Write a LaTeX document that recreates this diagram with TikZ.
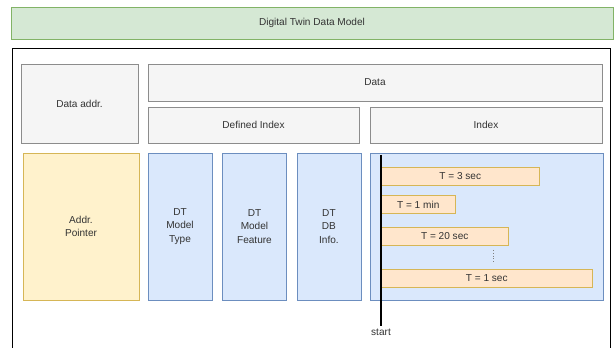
\documentclass[tikz,border=0pt]{standalone}
\usepackage{fontspec}
\setmainfont{Liberation Sans}
\usetikzlibrary{positioning}
\definecolor{titlefill}{HTML}{D5E8D4}
\definecolor{titleline}{HTML}{82B366}
\definecolor{cellfill}{HTML}{F5F5F5}
\definecolor{cellline}{HTML}{8C8C8C}
\definecolor{addrfill}{HTML}{FFF2CC}
\definecolor{addrline}{HTML}{D6B656}
\definecolor{fieldfill}{HTML}{DAE8FC}
\definecolor{fieldline}{HTML}{6C8EBF}
\definecolor{slotfill}{HTML}{FFE6CC}
\definecolor{textgray}{HTML}{333333}
\tikzset{
  x=0.03cm, y=-0.03cm,
  every node/.style={font=\fontsize{8.6}{11.5}\selectfont, text=textgray, align=center, inner sep=0pt},
  title/.style={draw=titleline, fill=titlefill, minimum width=18.06cm, minimum height=0.96cm},
  cell/.style={draw=cellline, fill=cellfill, line width=0.8pt},
  addr/.style={draw=addrline, fill=addrfill, minimum width=3.48cm, minimum height=4.41cm},
  field/.style={draw=fieldline, fill=fieldfill, minimum width=1.92cm, minimum height=4.41cm},
  slot/.style={draw=addrline, fill=slotfill, anchor=west, minimum height=0.55cm},
}

\begin{document}
\begin{tikzpicture}
      \useasboundingbox (0,0) rectangle (614,348);
      \node[title] (model) at (312,23) {Digital Twin Data Model};
      \draw[black, line width=0.6pt] (12,360) -- (12,48) -- (610,48) -- (610,360);

      \node[cell, minimum width=3.51cm, minimum height=2.37cm] (addr) at (79.5,103.5) {Data addr.};
      \node[cell, minimum width=13.62cm, minimum height=1.11cm] (data) at (375,82.5) {Data};
      \node[cell, minimum width=6.33cm, minimum height=1.08cm] (defined) at (253.5,125) {Defined Index};
      \node[cell, minimum width=6.96cm, minimum height=1.08cm] (index) at (486,125) {Index};

      \node[addr] (pointer) at (81,226.5) {Addr.\\Pointer};
      \node[field] (type) at (180,226.5) {DT\\Model\\Type};
      \node[field, right=0.3cm of type] (feature) {DT\\Model\\Feature};
      \node[field, right=0.3cm of feature] (dbinfo) {DT\\DB\\Info.};
      \node[field, minimum width=6.99cm] (timeline) at (486.5,226.5) {};

      \node[slot, minimum width=4.74cm] (t3) at (381,176) {T = 3 sec};
      \node[slot, minimum width=2.22cm] (t1m) at (381,204.5) {T = 1 min};
      \node[slot, minimum width=3.81cm] (t20) at (381,236.5) {T = 20 sec};
      \node[slot, minimum width=6.33cm] (t1) at (381,278) {T = 1 sec};

      \coordinate (dottop) at (493,250);
      \coordinate (dotend) at (493,263);
      \draw[gray, dotted] (dottop) -- (dotend);

      \coordinate (origin) at (381,155);
      \node[inner sep=2pt] (start) at (381,332) {start};
      \draw[black, line width=1pt] (origin) -- (start.north);
    \end{tikzpicture}
\end{document}
